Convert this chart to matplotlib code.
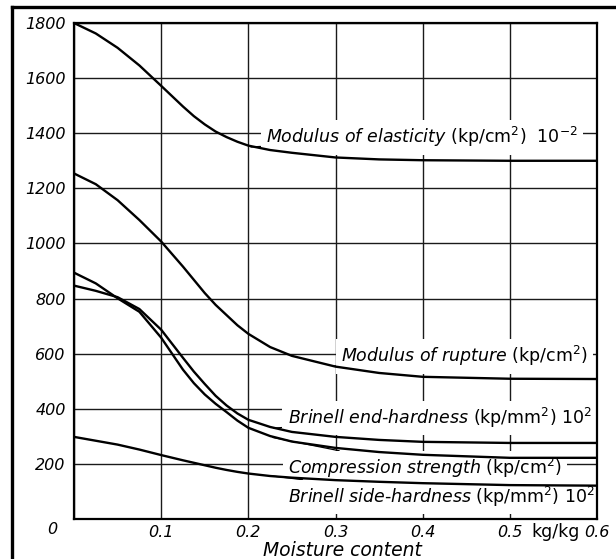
import matplotlib

matplotlib.use("Agg")
import matplotlib.pyplot as plt
from matplotlib.lines import Line2D

# moisture content (kg/kg) and the five property curves read at the same points
moisture = [0, 0.025, 0.05, 0.075, 0.1, 0.125, 0.1375, 0.15, 0.1625, 0.175, 0.1875, 0.2, 0.225, 0.25,
            0.3, 0.35, 0.4, 0.5, 0.6]
elasticity = [1800, 1762, 1710, 1646, 1572, 1497, 1462, 1432, 1406, 1386, 1369, 1355, 1339, 1329,
              1312, 1305, 1302, 1300, 1300]
rupture = [1254, 1215, 1157, 1085, 1007, 916, 868, 820, 777, 740, 703, 672, 624, 592,
           553, 530, 516, 509, 508]
end_hardness = [847, 828, 805, 762, 687, 585, 535, 490, 447, 412, 383, 360, 334, 316,
                298, 287, 280, 276, 276]
compression = [894, 855, 801, 752, 658, 542, 493, 452, 418, 388, 357, 331, 301, 281,
               258, 243, 233, 222, 222]
side_hardness = [298, 284, 270, 252, 232, 213, 204, 195, 186, 178, 171, 165, 156, 150,
                 141, 135, 130, 123, 121]

x_ticks = [0, 0.1, 0.2, 0.3, 0.4, 0.5, 0.6]
x_tick_labels = ["", "0.1", "0.2", "0.3", "0.4", "0.5", "0.6"]
y_ticks = [0, 200, 400, 600, 800, 1000, 1200, 1400, 1600, 1800]
y_tick_labels = ["", "200", "400", "600", "800", "1000", "1200", "1400", "1600", "1800"]

# label text, point on the curve for the leader, text anchor (left, centre)
labels = [
    (r"$\it{Modulus\ of\ elasticity}$ (kp/cm$^2$)  $\it{10^{-2}}$", (0.203, 1350), (0.220, 1385)),
    (r"$\it{Modulus\ of\ rupture}$ (kp/cm$^2$)", (0.298, 555), (0.306, 590)),
    (r"$\it{Brinell\ end\text{-}hardness}$ (kp/mm$^2$) $\it{10^2}$", (0.229, 330), (0.245, 367)),
    (r"$\it{Compression\ strength}$ (kp/cm$^2$)", (0.228, 296), (0.246, 185)),
    (r"$\it{Brinell\ side\text{-}hardness}$ (kp/mm$^2$) $\it{10^2}$", (0.228, 156), (0.246, 80)),
]


def main() -> None:
    plt.rcParams["mathtext.fontset"] = "dejavusans"
    plt.rcParams["font.family"] = ["DejaVu Sans"]

    fig = plt.figure(figsize=(6.16, 5.59), dpi=100)
    ax = fig.add_axes([74 / 616, 40 / 559, 523 / 616, 496 / 559])

    for series in (elasticity, rupture, end_hardness, compression, side_hardness):
        ax.plot(moisture, series, color="black", lw=1.7, solid_capstyle="round",
                solid_joinstyle="round", zorder=5)

    ax.set_xlim(0, 0.6)
    ax.set_ylim(0, 1800)
    ax.set_xticks(x_ticks)
    ax.set_xticklabels(x_tick_labels)
    ax.set_yticks(y_ticks)
    ax.set_yticklabels(y_tick_labels)
    ax.tick_params(length=0, labelsize=11.5)
    ax.tick_params(axis="x", pad=4)
    ax.tick_params(axis="y", pad=6)
    for lbl in ax.get_xticklabels() + ax.get_yticklabels():
        lbl.set_style("italic")

    ax.grid(True, color="#1a1a1a", lw=1.0, zorder=1)
    for spine in ax.spines.values():
        spine.set_linewidth(1.6)
        spine.set_zorder(6)

    for text, xy, xytext in labels:
        ax.annotate(
            text,
            xy=xy,
            xytext=xytext,
            ha="left",
            va="center",
            fontsize=12.5,
            bbox=dict(boxstyle="square,pad=0.3", fc="white", ec="none"),
            arrowprops=dict(arrowstyle="-", color="black", lw=0.9, shrinkA=0, shrinkB=0),
            annotation_clip=False,
            zorder=4,
        )

    trans = ax.get_xaxis_transform()
    ax.text(-0.025, -0.022, "0", transform=trans, ha="center", va="center",
            fontsize=11.5, style="italic", clip_on=False)
    ax.text(0.553, -0.026, "kg/kg", transform=trans, ha="center", va="center",
            fontsize=12.5, clip_on=False)
    ax.text(0.308, -0.063, "Moisture content", transform=trans, ha="center", va="center",
            fontsize=13.5, style="italic", clip_on=False)

    # scanned page border on the left and top
    fig.add_artist(Line2D([12 / 616, 12 / 616], [0, 1 - 7 / 559], transform=fig.transFigure,
                          color="black", lw=2.4))
    fig.add_artist(Line2D([12 / 616, 1], [1 - 7 / 559, 1 - 7 / 559], transform=fig.transFigure,
                          color="black", lw=2.4))

    fig.savefig("out.png", dpi=100)
    plt.close(fig)


if __name__ == "__main__":
    main()
